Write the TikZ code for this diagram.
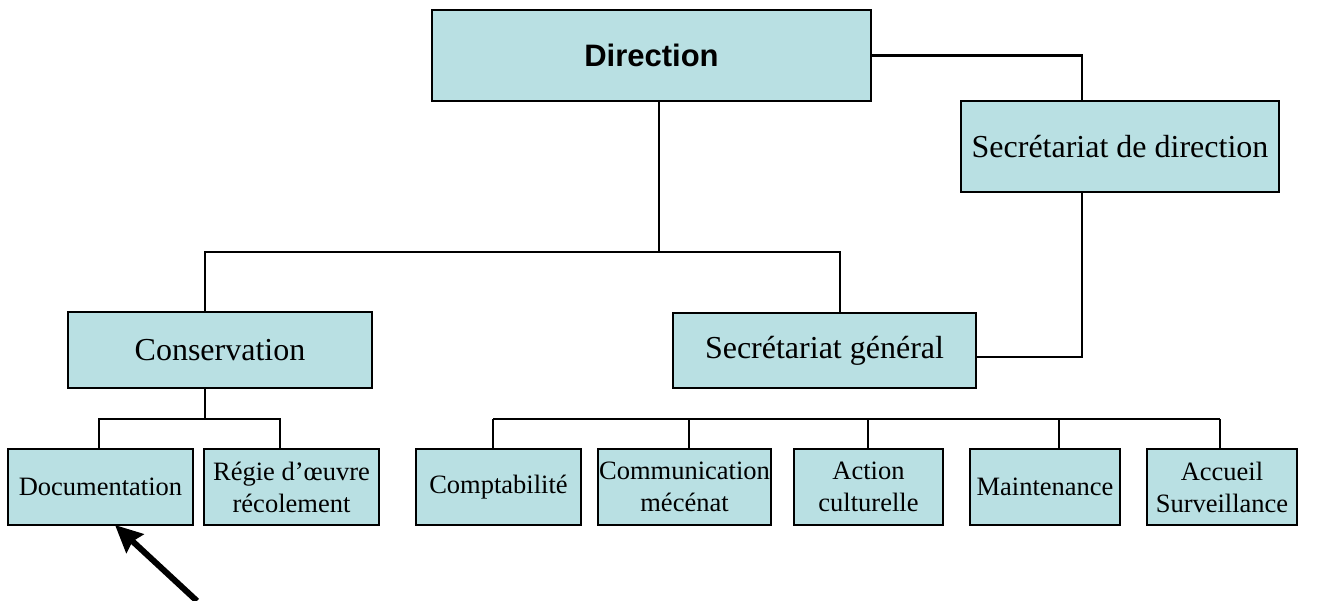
\documentclass[tikz,border=0pt]{standalone}
\usepackage{fontspec}
\setmainfont{Liberation Serif}
\newfontfamily\headfont{Liberation Sans}
\usetikzlibrary{arrows.meta,positioning}
\definecolor{boxfill}{RGB}{185,224,227}

\begin{document}
\begin{tikzpicture}[x=1pt,y=-1pt,
  box node/.style={rectangle,draw=black,line width=2.2pt,fill=boxfill,
  inner sep=0pt,outer sep=0pt,align=center,
  font=\fontsize{32}{38}\selectfont},
  unit node/.style={box node,minimum height=76pt,
  font=\fontsize{26.5}{32}\selectfont},
  link/.style={line width=2.6pt}]

  \useasboundingbox (0,0) rectangle (1318,601);

  \node[box node,minimum width=439pt,minimum height=91pt,
    font=\headfont\bfseries\fontsize{31}{37}\selectfont] (dir) at (651.5,55.5) {Direction};
  \node[box node,minimum width=318pt,minimum height=91pt] (sdd) at (1120,146.5) {Secrétariat de direction};
  \node[box node,minimum width=304pt,minimum height=76pt] (cons) at (220,350) {Conservation};
  \node[box node,minimum width=303pt,minimum height=75pt] (sg) at (824.5,350.5) {Secrétariat général};

  % bottom row, left to right
  \node[unit node,minimum width=185pt] (doc) at (100.5,487) {Documentation};
  \node[unit node,minimum width=175pt,right=11pt of doc] (regie) {Régie d’œuvre\\récolement};
  \node[unit node,minimum width=165pt,right=37pt of regie] (compta) {Comptabilité};
  \node[unit node,minimum width=173pt,right=17pt of compta] (comm) {Communication\\mécénat};
  \node[unit node,minimum width=149pt,right=23pt of comm] (action) {Action\\culturelle};
  \node[unit node,minimum width=150pt,right=27pt of action] (maint) {Maintenance};
  \node[unit node,minimum width=150pt,right=27pt of maint] (accueil) {Accueil\\Surveillance};

  % junction points of the tree
  \coordinate (tm) at (659,252);
  \coordinate (tl) at (205,252);
  \coordinate (tr) at (840,252);
  \coordinate (sx) at (1082,0);
  \coordinate (cm) at (205,419);
  \coordinate (cl) at (99,419);
  \coordinate (cr) at (280,419);
  \coordinate (sl) at (493,419);
  \coordinate (sr) at (1220,419);
  \coordinate (ptr) at (197,601);

  \draw[link] (tm |- dir.south) -- (tm);
  \draw[link] (tl |- cons.north) -- (tl) -- (tr) -- (tr |- sg.north);
  \draw[link] (dir.east) -| (sx |- sdd.north);
  \draw[link] (sx |- sdd.south) |- ([yshift=-6.5pt]sg.east);
  \draw[link] (cm |- cons.south) -- (cm);
  \draw[link] (cl |- doc.north) -- (cl) -- (cr) -- (cr |- regie.north);
  \draw[link] (sl) -- (sr);
  \foreach \n/\x in {compta/493,comm/689,action/868,maint/1059,accueil/1220}
    \draw[link] (\n.north -| \x,0) -- (sl -| \x,0);

  \draw[line width=6pt,-{Stealth[length=27pt,width=25pt,inset=3pt]}]
    (ptr) -- ([xshift=14.5pt]doc.south);
\end{tikzpicture}
\end{document}
